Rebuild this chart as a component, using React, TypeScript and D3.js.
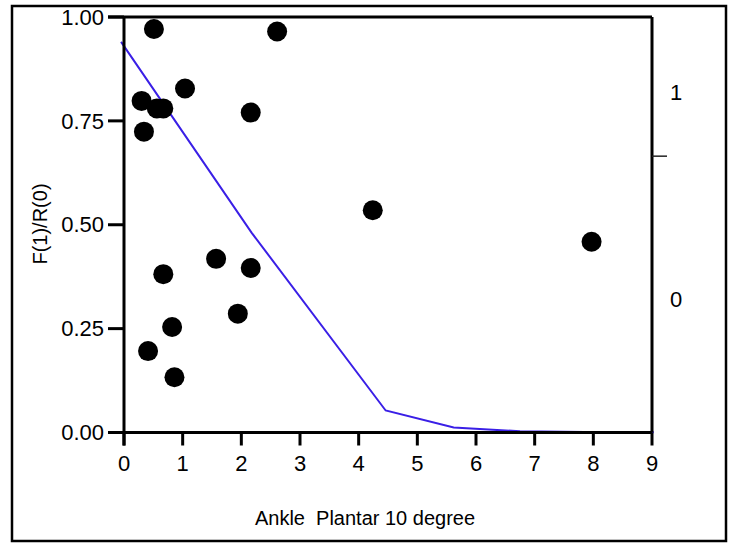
import React from "react";
import * as d3 from "d3";

// Axis ticks
const xTicks = [0, 1, 2, 3, 4, 5, 6, 7, 8, 9];
const yTicks = [0, 0.25, 0.5, 0.75, 1.0];

// Observed ratios
const pointX = [0.51, 2.61, 0.3, 0.34, 0.56, 0.67, 1.04, 2.16, 4.24, 7.97, 0.67, 1.57, 2.16, 0.82, 0.41, 0.86, 1.94];
const pointY = [0.971, 0.965, 0.798, 0.724, 0.78, 0.78, 0.828, 0.77, 0.535, 0.459, 0.381, 0.418, 0.396, 0.254, 0.196, 0.133, 0.286];

// Fitted curve
const curveX = [-0.05, 2.18, 4.46, 5.62, 6.75, 7.85, 9.03];
const curveY = [0.94, 0.48, 0.053, 0.012, 0.003, 0.001, 0.0005];

// Secondary axis
const rightLabels = ["0", "1"];
const rightTickValues = [0.69];

const FONT = "'Liberation Sans', Arial, sans-serif";

export default function App() {
  const W = 730;
  const H = 543;
  const x = d3.scaleLinear().domain([0, 9]).range([124, 652]);
  const y = d3.scaleLinear().domain([0, 1]).range([432.5, 17]);
  const yR = d3.scaleLinear().domain([0, 1]).range([299, 92]);

  const line = d3
    .line<number>()
    .x((_, i) => x(curveX[i]))
    .y((d) => y(d));

  const x0 = x(0);
  const x1 = x(9);
  const yBottom = y(0);
  const yTop = y(1);

  return (
    <svg
      width={W}
      height={H}
      style={{ position: "absolute", left: 0, top: 0, background: "#fff" }}
      fontFamily={FONT}
    >
      {/* outer frame */}
      <rect x={12} y={6} width={714} height={535} fill="none" stroke="#000" strokeWidth={2.5} />

      {/* fitted curve */}
      <path d={line(curveY) || ""} fill="none" stroke="#3a1fe6" strokeWidth={2} />

      {/* scatter points */}
      {pointX.map((px, i) => (
        <circle key={i} cx={x(px)} cy={y(pointY[i])} r={10} fill="#000" />
      ))}

      {/* plot frame: top and right */}
      <line x1={108} x2={x1} y1={yTop} y2={yTop} stroke="#000" strokeWidth={3} />
      <line x1={x1} x2={x1} y1={yTop} y2={yBottom} stroke="#000" strokeWidth={3} />

      {/* left axis */}
      <line x1={x0} x2={x0} y1={yTop} y2={yBottom + 13} stroke="#000" strokeWidth={3} />
      {yTicks.map((t) => (
        <g key={t}>
          <line x1={108} x2={x0} y1={y(t)} y2={y(t)} stroke="#000" strokeWidth={3} />
          <text x={104} y={y(t)} dy="0.35em" textAnchor="end" fontSize={22} fill="#000">
            {d3.format(".2f")(t)}
          </text>
        </g>
      ))}

      {/* bottom axis */}
      <line x1={108} x2={x1} y1={yBottom} y2={yBottom} stroke="#000" strokeWidth={3} />
      {xTicks.map((t) => (
        <g key={t}>
          <line x1={x(t)} x2={x(t)} y1={yBottom} y2={yBottom + 13} stroke="#000" strokeWidth={3} />
          <text x={x(t)} y={471} textAnchor="middle" fontSize={22} fill="#000">
            {t}
          </text>
        </g>
      ))}

      {/* right axis */}
      {rightTickValues.map((v) => (
        <line key={v} x1={x1} x2={x1 + 15} y1={yR(v)} y2={yR(v)} stroke="#222" strokeWidth={1.5} />
      ))}
      {rightLabels.map((l, i) => (
        <text key={l} x={676} y={yR(i)} dy="0.35em" textAnchor="middle" fontSize={22} fill="#000">
          {l}
        </text>
      ))}

      {/* axis titles */}
      <text
        x={365}
        y={525}
        textAnchor="middle"
        fontSize={20}
        fill="#000"
        style={{ whiteSpace: "pre" }}
      >
        {"Ankle  Plantar 10 degree"}
      </text>
      <text
        transform={`translate(47,224) rotate(-90)`}
        textAnchor="middle"
        fontSize={20}
        fill="#000"
      >
        F(1)/R(0)
      </text>
    </svg>
  );
}
